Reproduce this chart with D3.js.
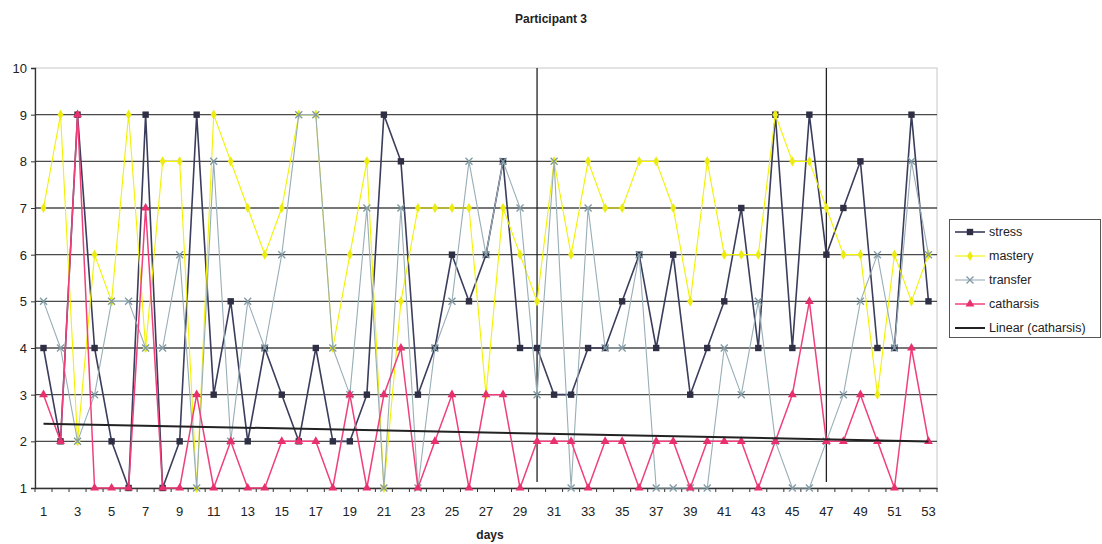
<!DOCTYPE html>
<html>
<head>
<meta charset="utf-8">
<script src="https://cdn.jsdelivr.net/npm/d3@7/dist/d3.min.js"></script>
<style>
  html, body { margin: 0; padding: 0; background: #fff; }
  svg { display: block; font-family: Arial, "Liberation Sans", sans-serif; }
</style>
</head>
<body>
<svg id="chart" width="1102" height="544"></svg>
<script>
// ---- data ----
const days = d3.range(1, 54);
const stress    = [4,2,9,4,2,1,9,1,2,9, 3,5,2,4,3,2,4,2,2,3, 9,8,3,4,6,5,6,8,4,4, 3,3,4,4,5,6,4,6,3,4, 5,7,4,9,4,9,6,7,8,4, 4,9,5];
const mastery   = [7,9,2,6,5,9,4,8,8,1, 9,8,7,6,7,9,9,4,6,8, 1,5,7,7,7,7,3,7,6,5, 8,6,8,7,7,8,8,7,5,8, 6,6,6,9,8,8,7,6,6,3, 6,5,6];
const transfer  = [5,4,2,3,5,5,4,4,6,1, 8,2,5,4,6,9,9,4,3,7, 1,7,1,4,5,8,6,8,7,3, 8,1,7,4,4,6,1,1,1,1, 4,3,5,2,1,1,2,3,5,6, 4,8,6];
const catharsis = [3,2,9,1,1,1,7,1,1,3, 1,2,1,1,2,2,2,1,3,1, 3,4,1,2,3,1,3,3,1,2, 2,2,1,2,2,1,2,2,1,2, 2,2,1,2,3,5,2,2,3,2, 1,4,2];
const phaseMarkers = [30, 47];
const yTicks = d3.range(1, 11);
const seriesNames = ["stress", "mastery", "transfer", "catharsis"];
const trendName = "Linear (catharsis)";

// ---- layout ----
const svg = d3.select("#chart");
const L = 35, R = 937, T = 68, B = 488;

const x = d3.scaleBand().domain(days).range([L, R]).paddingInner(0).paddingOuter(0);
const cx = d => x(d) + x.bandwidth() / 2;
const y = d3.scaleLinear().domain([1, 10]).range([B, T]);

// title
svg.append("text").attr("x", 551).attr("y", 23).attr("text-anchor", "middle")
  .attr("font-size", 12).attr("font-weight", "bold").attr("fill", "#222").text("Participant 3");

// plot frame (light)
svg.append("rect").attr("x", L).attr("y", T).attr("width", R - L).attr("height", B - T)
  .attr("fill", "none").attr("stroke", "#c8c8c8").attr("stroke-width", 1);

// gridlines
svg.append("g").selectAll("line").data(yTicks.filter(v => v > 1 && v < 10)).join("line")
  .attr("x1", L).attr("x2", R).attr("y1", d => y(d)).attr("y2", d => y(d))
  .attr("stroke", "#4a4a4a").attr("stroke-width", 1.4);

// axes
const yAxis = d3.axisLeft(y).tickValues(yTicks).tickSize(4).tickFormat(d3.format("d"));
const gy = svg.append("g").attr("transform", `translate(${L},0)`).call(yAxis);
gy.select(".domain").attr("stroke", "#333").attr("stroke-width", 1.3);
gy.selectAll(".tick line").attr("stroke", "#333");
gy.selectAll("text").attr("font-size", 13).attr("fill", "#222").attr("x", -8).attr("dy", "0.35em");

const xAxis = d3.axisBottom(x).tickSize(0).tickFormat(d => d % 2 === 1 ? d : "");
const gx = svg.append("g").attr("transform", `translate(0,${B})`).call(xAxis);
gx.select(".domain").attr("stroke", "#333").attr("stroke-width", 1.3);
gx.selectAll("text").attr("font-size", 13).attr("fill", "#222").attr("dy", "1.9em");
// category boundary ticks
svg.append("g").selectAll("line").data(days.concat([54])).join("line")
  .attr("x1", d => d <= 53 ? x(d) : R).attr("x2", d => d <= 53 ? x(d) : R)
  .attr("y1", B).attr("y2", B + 4).attr("stroke", "#333").attr("stroke-width", 1);

svg.append("text").attr("x", 490).attr("y", 539).attr("text-anchor", "middle")
  .attr("font-size", 12).attr("font-weight", "bold").attr("fill", "#222").text("days");

// phase separators
svg.append("g").selectAll("line").data(phaseMarkers).join("line")
  .attr("x1", d => cx(d)).attr("x2", d => cx(d)).attr("y1", T).attr("y2", 482)
  .attr("stroke", "#222").attr("stroke-width", 1.3);

// series
const styles = {
  stress:    { line: "#3b3d5c", marker: "#2e2f45", width: 1.6, shape: "square" },
  mastery:   { line: "#f2f200", marker: "#ecec10", width: 1.1, shape: "diamond" },
  transfer:  { line: "#98aeb6", marker: "#7f9aa4", width: 1.1, shape: "x" },
  catharsis: { line: "#f0407c", marker: "#e8306e", width: 1.5, shape: "triangle" }
};
const dataMap = { stress, mastery, transfer, catharsis };
const line = d3.line().x((v, i) => cx(days[i])).y(v => y(v));

function drawMarker(g, shape, color, px, py) {
  if (shape === "square") {
    g.append("rect").attr("x", px - 3.2).attr("y", py - 3.2).attr("width", 6.4).attr("height", 6.4).attr("fill", color);
  } else if (shape === "diamond") {
    g.append("path").attr("d", d3.symbol().type(d3.symbolDiamond).size(30)()).attr("transform", `translate(${px},${py})`).attr("fill", color);
  } else if (shape === "x") {
    g.append("path").attr("d", `M${px-3.5},${py-3.5}L${px+3.5},${py+3.5}M${px-3.5},${py+3.5}L${px+3.5},${py-3.5}`)
      .attr("stroke", color).attr("stroke-width", 1.3);
  } else if (shape === "triangle") {
    g.append("path").attr("d", d3.symbol().type(d3.symbolTriangle).size(34)()).attr("transform", `translate(${px},${py})`).attr("fill", color);
  }
}

seriesNames.forEach(name => {
  const s = styles[name];
  const vals = dataMap[name];
  const g = svg.append("g");
  g.append("path").datum(vals).attr("d", line).attr("fill", "none")
    .attr("stroke", s.line).attr("stroke-width", s.width).attr("stroke-linejoin", "round");
  vals.forEach((v, i) => drawMarker(g, s.shape, s.marker, cx(days[i]), y(v)));
});

// linear trend of catharsis (least squares)
const n = days.length;
const mx = d3.mean(days), my = d3.mean(catharsis);
const slope = d3.sum(days, (d, i) => (d - mx) * (catharsis[i] - my)) / d3.sum(days, d => (d - mx) * (d - mx));
const icpt = my - slope * mx;
svg.append("line")
  .attr("x1", cx(days[0])).attr("y1", y(icpt + slope * days[0]))
  .attr("x2", cx(days[n - 1])).attr("y2", y(icpt + slope * days[n - 1]))
  .attr("stroke", "#222").attr("stroke-width", 2);

// legend
const lg = svg.append("g");
lg.append("rect").attr("x", 949.5).attr("y", 219.5).attr("width", 151).attr("height", 118)
  .attr("fill", "#fff").attr("stroke", "#555").attr("stroke-width", 1);
const items = seriesNames.concat([trendName]);
items.forEach((name, i) => {
  const yy = 232 + i * 24;
  const st = styles[name];
  if (st) {
    lg.append("line").attr("x1", 955).attr("x2", 985).attr("y1", yy).attr("y2", yy)
      .attr("stroke", st.line).attr("stroke-width", st.width);
    drawMarker(lg, st.shape, st.marker, 970, yy);
  } else {
    lg.append("line").attr("x1", 955).attr("x2", 985).attr("y1", yy).attr("y2", yy)
      .attr("stroke", "#222").attr("stroke-width", 2);
  }
  lg.append("text").attr("x", 989).attr("y", yy).attr("dy", "0.35em")
    .attr("font-size", 12.5).attr("fill", "#222").text(name);
});
</script>
</body>
</html>
